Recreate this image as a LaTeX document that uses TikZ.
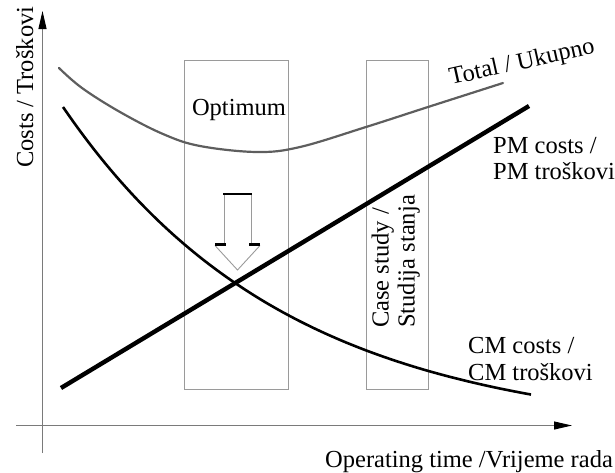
\documentclass[tikz,border=0pt]{standalone}
\usepackage{fontspec}
\setmainfont{Liberation Serif}
\usetikzlibrary{arrows.meta}
\definecolor{boxgray}{HTML}{9A9A9A}
\definecolor{axisgray}{HTML}{7A7A7A}
\definecolor{totalgray}{HTML}{5E5E5E}
\begin{document}
\begin{tikzpicture}[x=1pt,y=-1pt,
  lbl/.style={inner sep=0pt,font=\fontsize{24.5}{27}\selectfont},
  axisline/.style={draw=axisgray,line width=1pt,arrows={-{Triangle[length=18pt,width=8pt,color=black]}}},
  zone/.style={draw=boxgray,line width=1pt},
  thinarrow/.style={draw=boxgray,line width=0.9pt,line join=miter},
  bar/.style={draw=black,line width=2.2pt}]
\useasboundingbox (0,0) rectangle (615,472);
% axes
\coordinate (yb) at (42.5,453);
\coordinate (yt) at (42.5,11);
\coordinate (xl) at (16,425.5);
\coordinate (xr) at (572,425.5);
\draw[axisline] (yb) -- (yt);
\draw[axisline] (xl) -- (xr);
% zones
\draw[zone] (184,60) rectangle (288,389);
\draw[zone] (366,60) rectangle (428,389);
% total curve
\draw[totalgray,line width=2.2pt,line cap=round] plot[smooth,tension=0.6] coordinates {
 (59,68) (82,88) (120,112) (163,134) (200,146) (257,152) (300,147) (366,127) (428,107) (503,83)};
% CM curve
\draw[black,line width=2.6pt] plot[domain=63:531,samples=90] (\x,{435-328*exp(-0.004472*(\x-63))});
% PM line
\coordinate (pm0) at (61,388);
\coordinate (pm1) at (529,106);
\draw[black,line width=4.4pt] (pm0) -- (pm1);
% block arrow
\draw[thinarrow] (224,194) -- (224,244);
\draw[thinarrow] (251,194) -- (251,244);
\draw[thinarrow] (215,245.5) -- (237.5,270) -- (260,245.5);
\draw[bar] (223,194) -- (252,194);
\draw[bar] (215,244.5) -- (226,244.5);
\draw[bar] (249,244.5) -- (260,244.5);
% labels
\node[lbl,anchor=base] (opt) at (239,115) {Optimum};
\node[lbl,anchor=base west,rotate=12.5] (tot) at (451,85) {Total / Ukupno};
\node[lbl,anchor=base west] (pma) at (493,153) {PM costs /};
\node[lbl,anchor=base west] (pmb) at (493,179) {PM troškovi};
\node[lbl,anchor=base west] (cma) at (468,353) {CM costs /};
\node[lbl,anchor=base west] (cmb) at (468,380) {CM troškovi};
\node[lbl,anchor=base west,rotate=90] (csa) at (388.5,328) {Case study /};
\node[lbl,anchor=base west,rotate=90] (csb) at (414.5,328) {Studija stanja};
\node[lbl,anchor=base west,rotate=90] (ylab) at (33,168) {Costs / Troškovi};
\node[lbl,anchor=base west] (xlab) at (325,467) {Operating time /Vrijeme rada};
\end{tikzpicture}
\end{document}
